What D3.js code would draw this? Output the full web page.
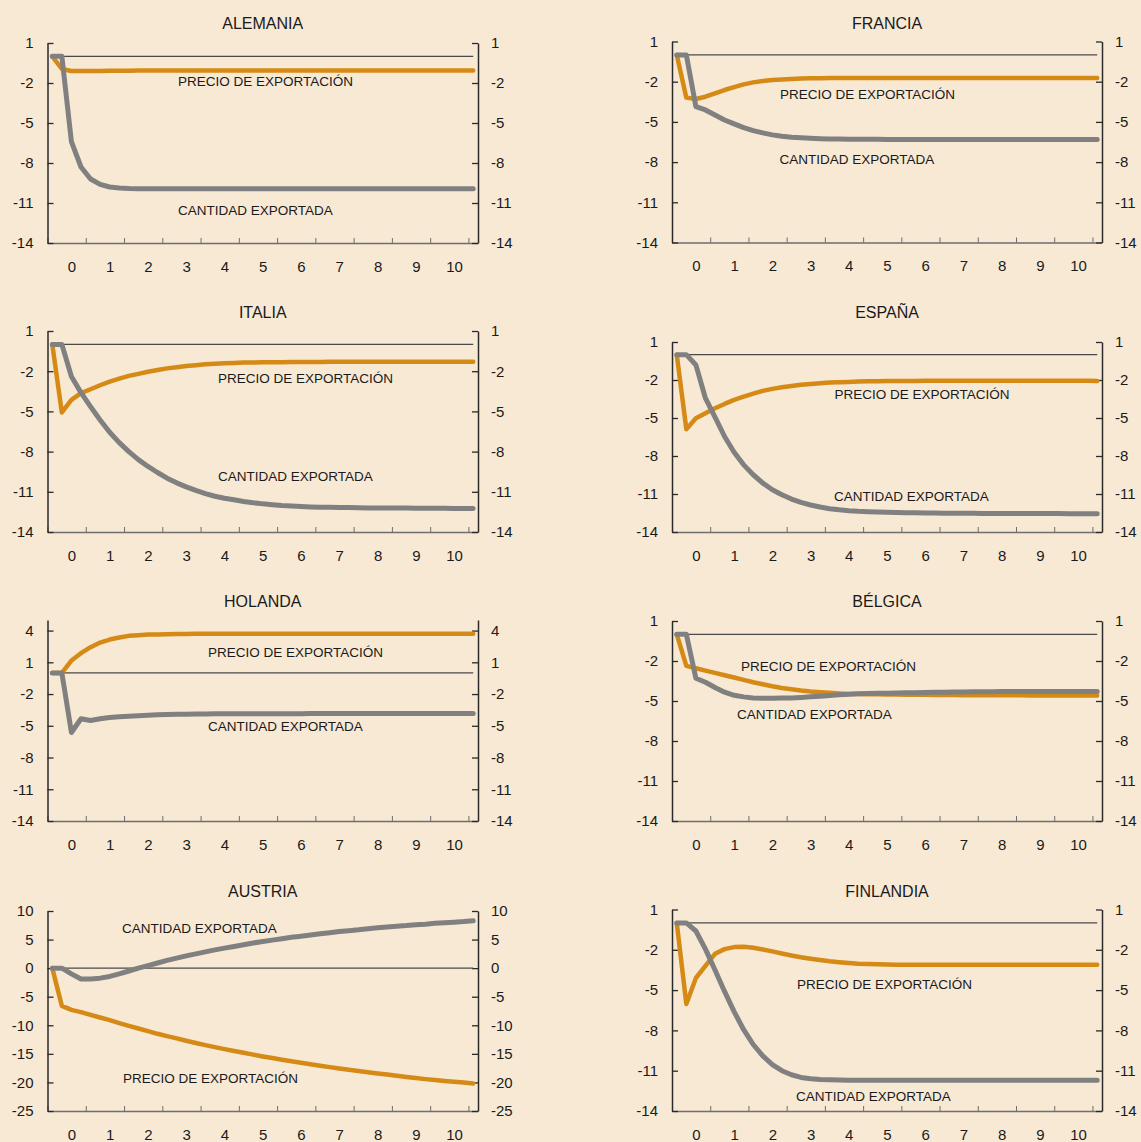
<!DOCTYPE html>
<html lang="es">
<head>
<meta charset="utf-8">
<title>Precio de exportación y cantidad exportada</title>
<script src="https://cdn.jsdelivr.net/npm/d3@7"></script>
<style>
  body { margin: 0; background: #f8e9d5; }
  text { font-family: "Liberation Sans", Arial, sans-serif; fill: #1a1a1a; }
</style>
</head>
<body>
<script>
// trimestres 0..44, etiquetas por año
var years = ['0', '1', '2', '3', '4', '5', '6', '7', '8', '9', '10'];

var alemaniaPrecio = [0, -0.95, -1.1, -1.1, -1.1, -1.1, -1.09, -1.08, -1.08, -1.07,
  -1.07, -1.07, -1.07, -1.07, -1.07, -1.07, -1.07, -1.07, -1.07, -1.07,
  -1.07, -1.07, -1.07, -1.07, -1.07, -1.07, -1.07, -1.07, -1.07, -1.07,
  -1.07, -1.07, -1.07, -1.07, -1.07, -1.07, -1.07, -1.07, -1.07, -1.07,
  -1.07, -1.07, -1.07, -1.07, -1.07];
var alemaniaCantidad = [0, 0, -6.4, -8.3, -9.2, -9.6, -9.8, -9.88, -9.92, -9.93,
  -9.93, -9.93, -9.93, -9.93, -9.93, -9.93, -9.93, -9.93, -9.93, -9.93,
  -9.93, -9.93, -9.93, -9.93, -9.93, -9.93, -9.93, -9.93, -9.93, -9.93,
  -9.93, -9.93, -9.93, -9.93, -9.93, -9.93, -9.93, -9.93, -9.93, -9.93,
  -9.93, -9.93, -9.93, -9.93, -9.93];

var franciaPrecio = [0, -3.19, -3.29, -3.12, -2.87, -2.62, -2.4, -2.2, -2.05, -1.95,
  -1.88, -1.84, -1.8, -1.77, -1.75, -1.74, -1.73, -1.73, -1.73, -1.73,
  -1.73, -1.73, -1.73, -1.73, -1.73, -1.73, -1.73, -1.73, -1.73, -1.73,
  -1.73, -1.73, -1.73, -1.73, -1.73, -1.73, -1.73, -1.73, -1.73, -1.73,
  -1.73, -1.73, -1.73, -1.73, -1.73];
var franciaCantidad = [0, 0, -3.86, -4.11, -4.48, -4.86, -5.15, -5.43, -5.65, -5.82,
  -5.97, -6.07, -6.15, -6.19, -6.22, -6.25, -6.27, -6.28, -6.29, -6.3,
  -6.3, -6.3, -6.31, -6.31, -6.31, -6.31, -6.31, -6.31, -6.31, -6.31,
  -6.31, -6.31, -6.31, -6.31, -6.31, -6.31, -6.31, -6.31, -6.31, -6.31,
  -6.32, -6.32, -6.32, -6.32, -6.32];

var italiaPrecio = [0, -5.08, -4.14, -3.64, -3.35, -3.05, -2.78, -2.55, -2.35, -2.2,
  -2.04, -1.91, -1.79, -1.7, -1.61, -1.55, -1.49, -1.45, -1.41, -1.38,
  -1.36, -1.35, -1.34, -1.33, -1.33, -1.32, -1.32, -1.31, -1.31, -1.3,
  -1.3, -1.3, -1.29, -1.29, -1.29, -1.29, -1.29, -1.29, -1.29, -1.29,
  -1.29, -1.29, -1.29, -1.29, -1.29];
var italiaCantidad = [0, 0, -2.4, -3.6, -4.64, -5.64, -6.56, -7.33, -8.0, -8.6,
  -9.11, -9.56, -9.98, -10.33, -10.63, -10.9, -11.13, -11.33, -11.48, -11.6,
  -11.72, -11.82, -11.9, -11.96, -12.02, -12.06, -12.1, -12.13, -12.15, -12.16,
  -12.17, -12.18, -12.19, -12.2, -12.2, -12.2, -12.21, -12.21, -12.22, -12.22,
  -12.23, -12.23, -12.24, -12.24, -12.25];

var espanaPrecio = [0, -5.88, -5.02, -4.62, -4.23, -3.89, -3.57, -3.31, -3.07, -2.86,
  -2.7, -2.58, -2.47, -2.38, -2.31, -2.25, -2.2, -2.17, -2.15, -2.12,
  -2.1, -2.09, -2.08, -2.08, -2.07, -2.07, -2.06, -2.06, -2.06, -2.05,
  -2.05, -2.05, -2.05, -2.05, -2.05, -2.05, -2.05, -2.05, -2.05, -2.05,
  -2.05, -2.05, -2.06, -2.06, -2.07];
var espanaCantidad = [0, 0, -0.81, -3.44, -4.94, -6.46, -7.7, -8.7, -9.48, -10.14,
  -10.66, -11.06, -11.4, -11.66, -11.87, -12.03, -12.16, -12.25, -12.32, -12.37,
  -12.4, -12.43, -12.45, -12.47, -12.48, -12.49, -12.5, -12.5, -12.51, -12.51,
  -12.52, -12.52, -12.53, -12.53, -12.53, -12.53, -12.54, -12.54, -12.54, -12.54,
  -12.54, -12.55, -12.55, -12.55, -12.55];

var holandaPrecio = [0, 0, 1.17, 1.86, 2.43, 2.87, 3.15, 3.34, 3.5, 3.56,
  3.62, 3.64, 3.65, 3.67, 3.68, 3.69, 3.69, 3.69, 3.69, 3.69,
  3.69, 3.69, 3.69, 3.69, 3.69, 3.69, 3.69, 3.69, 3.69, 3.69,
  3.69, 3.69, 3.69, 3.69, 3.69, 3.69, 3.69, 3.69, 3.69, 3.69,
  3.69, 3.69, 3.69, 3.69, 3.69];
var holandaCantidad = [0, 0, -5.63, -4.34, -4.5, -4.34, -4.21, -4.15, -4.09, -4.04,
  -4.0, -3.96, -3.93, -3.91, -3.9, -3.89, -3.88, -3.87, -3.87, -3.86,
  -3.86, -3.86, -3.86, -3.86, -3.86, -3.86, -3.86, -3.85, -3.85, -3.85,
  -3.85, -3.85, -3.85, -3.85, -3.85, -3.85, -3.85, -3.85, -3.85, -3.85,
  -3.84, -3.84, -3.84, -3.84, -3.84];

var belgicaPrecio = [0, -2.37, -2.54, -2.72, -2.89, -3.07, -3.24, -3.42, -3.59, -3.74,
  -3.89, -4.02, -4.12, -4.22, -4.29, -4.34, -4.39, -4.43, -4.47, -4.48,
  -4.49, -4.5, -4.51, -4.52, -4.53, -4.54, -4.54, -4.55, -4.55, -4.55,
  -4.56, -4.56, -4.56, -4.57, -4.57, -4.57, -4.57, -4.58, -4.58, -4.58,
  -4.58, -4.59, -4.59, -4.59, -4.59];
var belgicaCantidad = [0, 0, -3.29, -3.59, -3.99, -4.34, -4.57, -4.69, -4.77, -4.79,
  -4.79, -4.78, -4.77, -4.73, -4.69, -4.64, -4.59, -4.54, -4.49, -4.46,
  -4.44, -4.42, -4.41, -4.4, -4.39, -4.38, -4.37, -4.35, -4.34, -4.33,
  -4.32, -4.31, -4.3, -4.3, -4.29, -4.29, -4.29, -4.29, -4.29, -4.29,
  -4.29, -4.29, -4.29, -4.29, -4.29];

var austriaPrecio = [0, -6.6, -7.3, -7.7, -8.17, -8.64, -9.1, -9.63, -10.09, -10.56,
  -11.02, -11.49, -11.9, -12.3, -12.7, -13.1, -13.47, -13.83, -14.17, -14.5,
  -14.81, -15.13, -15.45, -15.74, -16.03, -16.3, -16.56, -16.82, -17.08, -17.32,
  -17.55, -17.78, -18.01, -18.22, -18.42, -18.63, -18.83, -19.04, -19.24, -19.42,
  -19.59, -19.74, -19.88, -20.03, -20.17];
var austriaCantidad = [0, 0, -1.0, -1.9, -1.9, -1.75, -1.45, -1.0, -0.5, 0.0,
  0.45, 0.9, 1.35, 1.75, 2.15, 2.5, 2.85, 3.2, 3.5, 3.8,
  4.1, 4.4, 4.65, 4.9, 5.15, 5.4, 5.6, 5.8, 6.0, 6.2,
  6.4, 6.55, 6.7, 6.9, 7.05, 7.2, 7.35, 7.45, 7.6, 7.7,
  7.85, 7.95, 8.05, 8.15, 8.3];

var finlandiaPrecio = [0, -6.03, -4.1, -3.2, -2.3, -1.95, -1.8, -1.78, -1.85, -1.98,
  -2.12, -2.28, -2.42, -2.55, -2.66, -2.76, -2.85, -2.92, -2.98, -3.03,
  -3.06, -3.08, -3.1, -3.11, -3.12, -3.12, -3.12, -3.12, -3.12, -3.12,
  -3.12, -3.12, -3.12, -3.12, -3.12, -3.12, -3.12, -3.12, -3.12, -3.12,
  -3.12, -3.12, -3.12, -3.12, -3.12];
var finlandiaCantidad = [0, 0, -0.6, -1.95, -3.5, -5.1, -6.6, -7.95, -9.05, -9.9,
  -10.55, -11.0, -11.3, -11.5, -11.6, -11.65, -11.68, -11.7, -11.72, -11.72,
  -11.72, -11.72, -11.72, -11.72, -11.72, -11.72, -11.72, -11.72, -11.72, -11.72,
  -11.72, -11.72, -11.72, -11.72, -11.72, -11.72, -11.72, -11.72, -11.72, -11.72,
  -11.72, -11.72, -11.72, -11.72, -11.72];

var ticksStd = [1, -2, -5, -8, -11, -14];
var ticksHolanda = [4, 1, -2, -5, -8, -11, -14];
var ticksAustria = [10, 5, 0, -5, -10, -15, -20, -25];

var PRECIO = 'PRECIO DE EXPORTACIÓN', CANTIDAD = 'CANTIDAD EXPORTADA';

// layout
var width = 1141, height = 1142;
var cols = [{x0: 47.5, x1: 478}, {x0: 672, x1: 1102}];

var panels = [
  {title: 'ALEMANIA', col: 0, top: 43, bottom: 243, titleY: 23, domain: [-14, 1], ticks: ticksStd,
   precio: alemaniaPrecio, cantidad: alemaniaCantidad, lp: [178, 81], lc: [178, 210]},
  {title: 'FRANCIA', col: 1, top: 41.5, bottom: 242.5, titleY: 23, domain: [-14, 1], ticks: ticksStd,
   precio: franciaPrecio, cantidad: franciaCantidad, lp: [780, 94], lc: [779.5, 159]},
  {title: 'ITALIA', col: 0, top: 331, bottom: 532, titleY: 312.5, domain: [-14, 1], ticks: ticksStd,
   precio: italiaPrecio, cantidad: italiaCantidad, lp: [218, 378], lc: [218, 476]},
  {title: 'ESPAÑA', col: 1, top: 342, bottom: 532, titleY: 312.5, domain: [-14, 1], ticks: ticksStd,
   precio: espanaPrecio, cantidad: espanaCantidad, lp: [834.5, 394], lc: [834, 496]},
  {title: 'HOLANDA', col: 0, top: 620, bottom: 821, titleY: 601.5, domain: [-14, 5], ticks: ticksHolanda,
   precio: holandaPrecio, cantidad: holandaCantidad, lp: [208, 652], lc: [208, 726.5]},
  {title: 'BÉLGICA', col: 1, top: 621, bottom: 821, titleY: 601.5, domain: [-14, 1], ticks: ticksStd,
   precio: belgicaPrecio, cantidad: belgicaCantidad, lp: [741, 666], lc: [737, 714]},
  {title: 'AUSTRIA', col: 0, top: 911, bottom: 1111, titleY: 891.5, domain: [-25, 10], ticks: ticksAustria,
   precio: austriaPrecio, cantidad: austriaCantidad, lp: [123, 1078], lc: [122, 928]},
  {title: 'FINLANDIA', col: 1, top: 909.5, bottom: 1111, titleY: 891.5, domain: [-14, 1], ticks: ticksStd,
   precio: finlandiaPrecio, cantidad: finlandiaCantidad, lp: [797, 984], lc: [796, 1096.5]}
];

var svg = d3.select('body').append('svg').attr('width', width).attr('height', height);
svg.append('rect').attr('width', width).attr('height', height).attr('fill', '#f8e9d5');

var hyphen = function(d) { return String(d); };

panels.forEach(function(p) {
  var c = cols[p.col];
  var n = p.precio.length;
  var x = d3.scaleLinear().domain([0, n]).range([c.x0, c.x1]);
  var y = d3.scaleLinear().domain(p.domain).range([p.bottom, p.top]);
  var g = svg.append('g');

  g.append('text').attr('x', (c.x0 + c.x1) / 2).attr('y', p.titleY).attr('dy', '0.35em')
    .attr('text-anchor', 'middle').style('font-size', '16px').text(p.title);

  // eje x: marcas cada 4 trimestres, etiquetas centradas en el 3er trimestre del año
  var xTicks = g.append('g').attr('transform', 'translate(0,' + p.bottom + ')')
    .call(d3.axisBottom(x).tickValues(d3.range(0, n, 4)).tickSize(-5).tickSizeOuter(0).tickFormat(''));
  xTicks.select('.domain').attr('stroke', '#6e6e6e').attr('stroke-width', 1.5);
  xTicks.selectAll('.tick line').attr('stroke', '#6e6e6e');

  var xLab = g.append('g').attr('transform', 'translate(0,' + p.bottom + ')')
    .call(d3.axisBottom(x).tickValues(years.map(function(d, k) { return 4 * k + 2.5; }))
      .tickSize(0).tickPadding(18).tickFormat(function(d, k) { return years[k]; }));
  xLab.select('.domain').remove();
  xLab.selectAll('text').style('font-size', '15px').attr('fill', '#1a1a1a')
    .style('font-family', '"Liberation Sans", Arial, sans-serif');

  var yl = g.append('g').attr('transform', 'translate(' + c.x0 + ',0)')
    .call(d3.axisLeft(y).tickValues(p.ticks).tickSize(-6).tickSizeOuter(0).tickPadding(14).tickFormat(hyphen));
  var yr = g.append('g').attr('transform', 'translate(' + c.x1 + ',0)')
    .call(d3.axisRight(y).tickValues(p.ticks).tickSize(-6).tickSizeOuter(0).tickPadding(13).tickFormat(hyphen));
  [yl, yr].forEach(function(a) {
    a.select('.domain').attr('stroke', '#2a2a2a').attr('stroke-width', 1.5);
    a.selectAll('.tick line').attr('stroke', '#2a2a2a').attr('stroke-width', 1.3);
    a.selectAll('text').style('font-size', '15px').attr('fill', '#1a1a1a')
      .style('font-family', '"Liberation Sans", Arial, sans-serif');
  });

  var line = d3.line().x(function(d, i) { return x(i + 0.5); }).y(function(d) { return y(d); });

  // linea de referencia en cero
  g.append('path').datum(p.precio.map(function() { return 0; })).attr('d', line)
    .attr('fill', 'none').attr('stroke', '#4a4a4a').attr('stroke-width', 1.2);

  g.append('path').datum(p.precio).attr('d', line).attr('fill', 'none')
    .attr('stroke', '#d58a16').attr('stroke-width', 4.5)
    .attr('stroke-linecap', 'round').attr('stroke-linejoin', 'round');
  g.append('path').datum(p.cantidad).attr('d', line).attr('fill', 'none')
    .attr('stroke', '#808080').attr('stroke-width', 5)
    .attr('stroke-linecap', 'round').attr('stroke-linejoin', 'round');

  g.append('text').attr('x', p.lp[0]).attr('y', p.lp[1]).attr('dy', '0.35em')
    .style('font-size', '13.5px').text(PRECIO);
  g.append('text').attr('x', p.lc[0]).attr('y', p.lc[1]).attr('dy', '0.35em')
    .style('font-size', '13.5px').text(CANTIDAD);
});
</script>
</body>
</html>
